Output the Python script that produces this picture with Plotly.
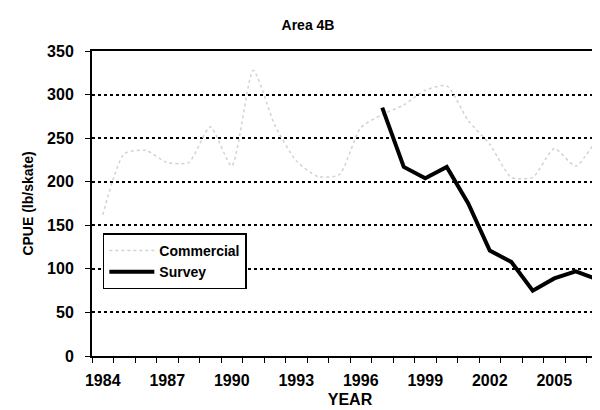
import plotly.graph_objects as go

years = list(range(1984, 2008))
commercial = [162, 232, 236, 222, 222, 263, 218, 328, 265, 224, 206, 208,
              262, 277, 288, 305, 310, 270, 243, 205, 205, 238, 218, 250]
survey_years = list(range(1997, 2008))
survey = [285, 217, 204, 217, 175, 121, 108, 75, 89, 97, 88]

fnt = "Liberation Sans, Arial, sans-serif"

fig = go.Figure()
fig.add_trace(go.Scatter(x=years, y=commercial, mode="lines", name="<b>Commercial</b>",
                         line=dict(color="#d2d2d2", width=1.5, dash="dot", shape="spline", smoothing=0.6)))
fig.add_trace(go.Scatter(x=survey_years, y=survey, mode="lines", name="<b>Survey</b>",
                         line=dict(color="black", width=4)))

fig.update_layout(
    width=600, height=410,
    margin=dict(l=84, r=0, t=43, b=62),
    paper_bgcolor="white", plot_bgcolor="white",
    font=dict(family=fnt, size=13, color="black"),
    title=dict(text="<b>Area 4B</b>", x=0.5, xanchor="center", y=0.958, yanchor="middle",
               yref="container", font=dict(size=14)),
    showlegend=True,
    legend=dict(x=0.021, y=0.402, xanchor="left", yanchor="top",
                bordercolor="black", borderwidth=1.5, bgcolor="white",
                font=dict(size=14), tracegroupgap=0, itemwidth=45),
)

fig.update_xaxes(
    range=[1983.5, 2007.5], automargin=False,
    tickvals=years[::3], ticktext=["<b>%d</b>" % y for y in years[::3]],
    ticks="", showgrid=False, zeroline=False,
    showline=True, linecolor="black", linewidth=2, mirror=True,
    minor=dict(tick0=1983.5, dtick=1, ticks="outside", ticklen=5, tickcolor="black", tickwidth=1, showgrid=False),
    tickfont=dict(size=16), ticklabelstandoff=9,
    title=dict(text="<b>YEAR</b>", font=dict(size=16), standoff=6),
)
fig.update_yaxes(
    range=[0, 350], dtick=50, automargin=False,
    tickvals=list(range(0, 351, 50)), ticktext=["<b>%d</b>" % v for v in range(0, 351, 50)],
    ticks="outside", ticklen=5, tickcolor="black", tickwidth=1,
    showgrid=True, gridcolor="black", griddash="dot", gridwidth=1.5, zeroline=False,
    showline=True, linecolor="black", linewidth=2,
    tickfont=dict(size=16), ticklabelstandoff=8,
    title=dict(text="<b>CPUE (lb/skate)</b>", font=dict(size=14), standoff=10),
)

fig.write_html("out.html")
